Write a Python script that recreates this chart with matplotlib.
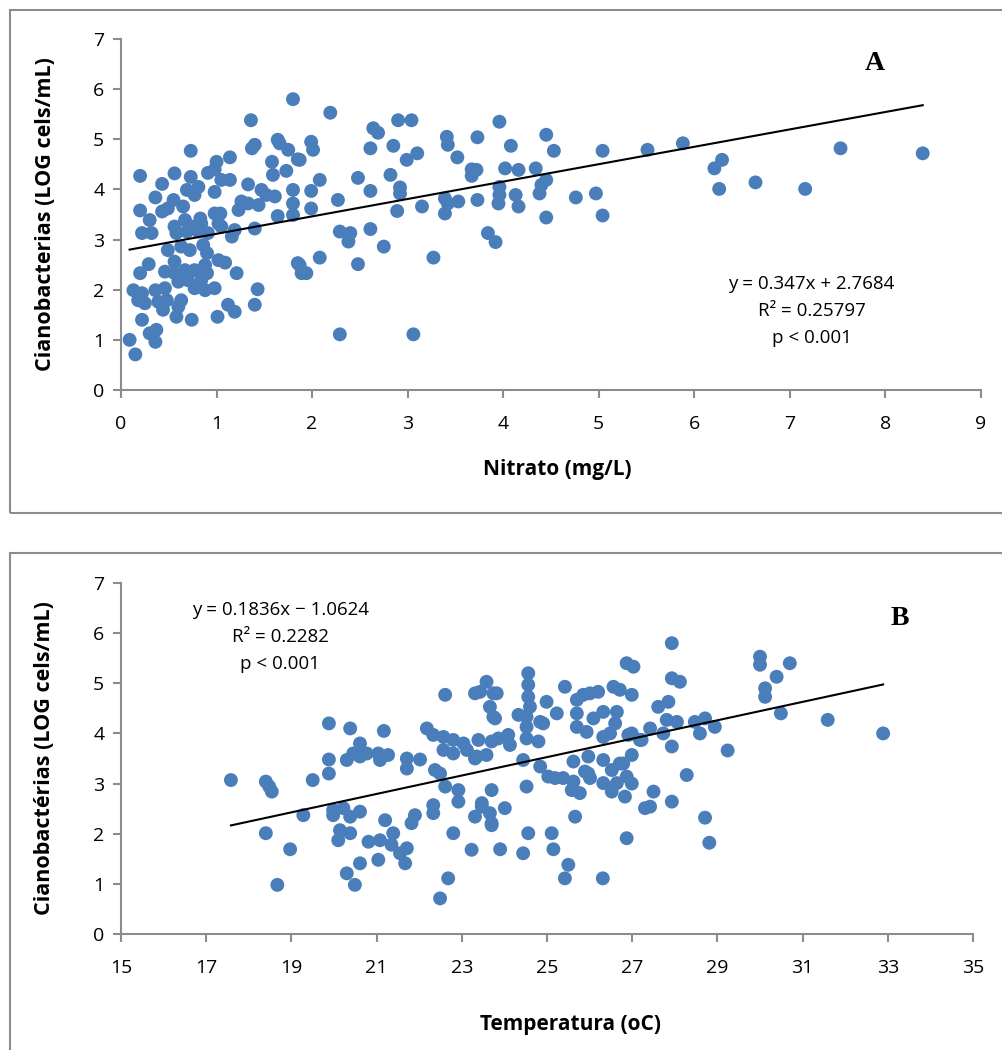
import matplotlib
matplotlib.use("Agg")
import matplotlib.pyplot as plt
from matplotlib.patches import Rectangle

# --- data ---
nitrato = [
    1.80, 1.36, 0.73, 1.37, 1.40, 1.64, 1.66, 1.75, 1.85, 1.14, 1.00, 0.20, 0.56, 0.43, 0.73, 0.91,
    0.98, 1.05, 1.14, 1.58, 1.59, 1.73, 1.33, 0.81, 0.69, 0.77, 0.98, 0.36, 0.55, 0.49, 0.65, 0.20,
    0.43, 1.47, 1.52, 1.61, 1.26, 1.23, 1.44, 1.33, 1.80, 1.80, 1.80, 1.64, 0.98, 1.04, 0.83, 0.30,
    0.22, 0.32, 0.56, 0.67, 0.74, 0.84, 0.58, 0.69, 0.81, 0.91, 1.02, 1.05, 1.16, 1.19, 1.40, 0.49,
    0.63, 0.72, 0.86, 0.90, 0.56, 0.29, 0.20, 0.46, 0.56, 0.67, 0.77, 0.88, 0.90, 1.02, 1.09, 1.21,
    1.85, 1.89, 0.60, 0.70, 0.84, 0.13, 0.22, 0.36, 0.46, 0.77, 0.88, 0.98, 1.43, 0.25, 0.18, 0.39,
    0.48, 0.60, 0.63, 0.44, 0.58, 0.74, 1.12, 1.19, 1.40, 1.01, 0.22, 0.30, 0.37, 0.36, 0.09, 0.15,
    2.19, 2.90, 3.04, 3.96, 2.64, 2.69, 1.99, 2.01, 3.41, 3.42, 3.73, 4.45, 2.61, 2.85, 4.08, 4.53,
    5.04, 1.87, 3.10, 2.99, 3.52, 3.67, 3.72, 3.67, 4.02, 4.16, 4.34, 2.08, 2.48, 2.82, 1.99, 2.61,
    2.92, 2.92, 2.27, 3.96, 3.96, 3.95, 4.45, 4.40, 4.38, 4.13, 4.16, 4.76, 4.97, 3.39, 3.42, 3.53,
    3.73, 3.15, 1.99, 2.89, 3.39, 4.45, 5.04, 2.29, 2.40, 2.38, 2.61, 2.75, 3.84, 3.92, 2.08, 2.48,
    3.27, 1.87, 1.94, 2.29, 3.06, 5.51, 5.88, 7.53, 8.39, 6.29, 6.21, 6.26, 6.64, 7.16,
]
ciano_a = [
    5.80, 5.38, 4.77, 4.82, 4.89, 4.99, 4.92, 4.79, 4.60, 4.64, 4.55, 4.27, 4.32, 4.11, 4.25, 4.33,
    4.40, 4.19, 4.19, 4.55, 4.29, 4.37, 4.10, 4.05, 3.99, 3.89, 3.95, 3.84, 3.79, 3.62, 3.66, 3.58,
    3.56, 3.99, 3.89, 3.86, 3.76, 3.59, 3.69, 3.72, 3.99, 3.72, 3.49, 3.47, 3.52, 3.52, 3.42, 3.39,
    3.13, 3.13, 3.26, 3.39, 3.26, 3.32, 3.13, 3.16, 3.16, 3.13, 3.32, 3.26, 3.06, 3.19, 3.22, 2.79,
    2.86, 2.79, 2.89, 2.73, 2.56, 2.51, 2.33, 2.36, 2.33, 2.39, 2.39, 2.49, 2.33, 2.59, 2.54, 2.33,
    2.53, 2.33, 2.16, 2.19, 2.19, 1.99, 1.93, 1.99, 2.03, 2.03, 1.99, 2.03, 2.01, 1.73, 1.79, 1.76,
    1.79, 1.66, 1.79, 1.60, 1.46, 1.40, 1.70, 1.56, 1.70, 1.46, 1.40, 1.13, 1.20, 0.96, 1.00, 0.71,
    5.53, 5.38, 5.38, 5.35, 5.22, 5.13, 4.95, 4.79, 5.05, 4.89, 5.04, 5.09, 4.82, 4.87, 4.87, 4.77,
    4.77, 4.59, 4.72, 4.59, 4.64, 4.40, 4.39, 4.27, 4.42, 4.39, 4.42, 4.19, 4.23, 4.29, 3.97, 3.97,
    4.04, 3.92, 3.79, 4.05, 3.89, 3.72, 4.19, 4.09, 3.92, 3.89, 3.66, 3.84, 3.92, 3.82, 3.72, 3.76,
    3.79, 3.66, 3.62, 3.57, 3.52, 3.44, 3.48, 3.16, 3.13, 2.96, 3.21, 2.86, 3.13, 2.95, 2.64, 2.51,
    2.64, 2.49, 2.33, 1.11, 1.11, 4.79, 4.92, 4.82, 4.72, 4.59, 4.42, 4.01, 4.14, 4.01,
]

temperatura = [
    17.58, 18.40, 18.48, 18.54, 18.40, 18.97, 18.67, 19.50, 19.28, 19.88, 19.88, 19.88, 20.38, 20.30,
    20.45, 20.61, 20.61, 20.77, 19.98, 19.98, 20.22, 20.38, 20.61, 20.14, 20.38, 20.10, 20.30, 20.49,
    20.61, 21.04, 21.08, 21.27, 21.17, 20.81, 21.08, 21.39, 21.35, 21.20, 21.04, 21.55, 21.67, 21.71,
    21.71, 21.71, 22.02, 21.82, 21.90, 22.18, 22.33, 22.57, 22.80, 23.04, 22.57, 22.80, 23.12, 22.37,
    22.49, 22.61, 22.61, 22.33, 22.33, 22.80, 22.49, 22.68, 22.92, 22.92, 23.23, 23.31, 23.39, 23.35,
    23.58, 23.31, 23.58, 23.74, 23.70, 23.47, 23.66, 23.70, 23.66, 23.74, 23.43, 23.82, 23.78, 24.56,
    24.56, 24.56, 24.60, 24.99, 25.42, 24.33, 24.52, 24.52, 24.84, 25.23, 25.70, 25.70, 25.85, 26.01,
    26.20, 26.32, 26.64, 26.60, 25.70, 25.93, 26.09, 23.31, 23.70, 23.86, 24.09, 24.13, 24.52, 24.80,
    24.91, 24.44, 24.84, 25.03, 25.19, 25.38, 25.62, 25.89, 26.01, 26.32, 26.52, 26.64, 26.79, 26.87,
    25.62, 25.77, 26.32, 26.52, 26.83, 24.52, 23.47, 23.70, 24.01, 23.90, 24.44, 24.56, 25.11, 25.15,
    25.66, 25.50, 25.42, 26.31, 26.87, 26.87, 27.93, 27.03, 27.93, 28.12, 26.71, 26.99, 27.61, 27.85,
    30.00, 30.00, 30.70, 30.39, 30.12, 30.12, 30.49, 31.59, 32.89, 27.81, 28.05, 28.47, 28.71, 28.94,
    27.42, 27.73, 27.18, 28.59, 27.93, 29.24, 26.99, 26.71, 26.99, 28.28, 27.50, 27.30, 27.42, 27.93,
    28.71, 28.81, 26.56, 25.58, 25.97, 25.97, 26.32, 26.48, 26.91, 26.99, 27.22,
]
ciano_b = [
    3.07, 3.04, 2.94, 2.84, 2.01, 1.69, 0.98, 3.07, 2.37, 4.20, 3.48, 3.20, 4.10, 3.47,
    3.60, 3.80, 3.54, 3.60, 2.47, 2.37, 2.51, 2.34, 2.44, 2.07, 2.01, 1.87, 1.21, 0.98,
    1.41, 3.60, 3.47, 3.57, 4.05, 1.84, 1.87, 2.01, 1.78, 2.27, 1.48, 1.61, 1.41, 1.71,
    3.50, 3.30, 3.48, 2.21, 2.37, 4.10, 3.97, 3.93, 3.87, 3.80, 3.67, 3.60, 3.67, 3.27,
    3.20, 2.94, 4.77, 2.57, 2.41, 2.01, 0.71, 1.11, 2.87, 2.64, 1.68, 2.34, 3.87, 3.54,
    3.57, 4.80, 5.03, 4.80, 2.87, 2.54, 2.41, 2.21, 4.53, 4.33, 4.83, 4.80, 4.30, 5.20,
    4.97, 4.73, 4.53, 4.63, 4.93, 4.37, 4.33, 4.13, 4.23, 4.40, 4.67, 4.40, 4.77, 4.80,
    4.83, 4.43, 4.43, 4.20, 4.13, 4.03, 4.30, 3.50, 3.84, 3.90, 3.97, 3.77, 3.90, 3.84,
    4.20, 3.47, 3.34, 3.14, 3.11, 3.11, 3.44, 3.24, 3.11, 3.47, 3.27, 3.01, 3.40, 3.14,
    3.04, 2.81, 3.01, 2.84, 2.74, 2.94, 2.61, 2.17, 2.51, 1.69, 1.61, 2.01, 2.01, 1.69,
    2.34, 1.38, 1.11, 1.11, 5.40, 1.91, 5.80, 5.33, 5.10, 5.03, 4.87, 4.77, 4.53, 4.63,
    5.53, 5.37, 5.40, 5.13, 4.90, 4.73, 4.40, 4.27, 4.00, 4.27, 4.23, 4.23, 4.30, 4.13,
    4.10, 4.00, 3.87, 4.00, 3.74, 3.66, 3.57, 3.40, 3.00, 3.17, 2.84, 2.51, 2.54, 2.64,
    2.32, 1.82, 4.93, 2.87, 3.54, 3.20, 3.93, 4.00, 3.97, 4.00, 3.87,
]

# trend lines (Excel linear fit)
slope_a, icpt_a = 0.347, 2.7684
slope_b, icpt_b = 0.1836, -1.0624

dot = "#4a7ebb"
grey = "#8c8c8c"
sans = ["Open Sans", "DejaVu Sans"]
serif = ["Liberation Serif", "DejaVu Serif"]

fig = plt.figure(figsize=(10.02, 10.5), dpi=100)

# outer frames of both panels
fig.patches.append(Rectangle((10 / 1002, 1 - 513 / 1050), 1.0, 503 / 1050, transform=fig.transFigure,
                             fill=False, edgecolor=grey, lw=1.5))
fig.patches.append(Rectangle((10 / 1002, -0.05), 1.0, 0.05 + (1 - 553 / 1050), transform=fig.transFigure,
                             fill=False, edgecolor=grey, lw=1.5))

ax1 = fig.add_axes([121 / 1002, 1 - 390 / 1050, 860 / 1002, 351 / 1050])
ax2 = fig.add_axes([121 / 1002, 1 - 934 / 1050, 852 / 1002, 351 / 1050])


def style(ax, xticks):
    ax.set_ylim(0, 7)
    ax.set_xlim(xticks[0], xticks[-1])
    ax.set_xticks(xticks)
    ax.set_yticks(range(8))
    for s in ("top", "right"):
        ax.spines[s].set_visible(False)
    for s in ("left", "bottom"):
        ax.spines[s].set_color(grey)
        ax.spines[s].set_linewidth(1.5)
    ax.tick_params(direction="out", length=6, width=1.5, color=grey, labelsize=14, pad=6)
    ax.tick_params(axis="x", pad=12)
    for lab in ax.get_xticklabels() + ax.get_yticklabels():
        lab.set_family(sans)


# panel A
ax1.scatter(nitrato, ciano_a, s=100, color=dot, edgecolors="none", zorder=2)
xa = [min(nitrato), max(nitrato)]
ax1.plot(xa, [slope_a * v + icpt_a for v in xa], color="black", lw=1.5, zorder=3)
style(ax1, list(range(10)))
ax1.set_xlabel("Nitrato (mg/L)", family=sans, fontsize=15, fontweight="bold")
ax1.xaxis.set_label_coords(0.507, -0.196)
ax1.set_ylabel("Cianobacterias (LOG cels/mL)", family=sans, fontsize=15.5, fontweight="bold")
ax1.yaxis.set_label_coords(-0.076, 0.5)
ax1.text(0.803, 0.225, "y = 0.347x + 2.7684\nR² = 0.25797\np < 0.001", transform=ax1.transAxes,
         ha="center", va="center", fontsize=13.5, family=sans, linespacing=1.65)
ax1.text(0.877, 0.93, "A", transform=ax1.transAxes, ha="center", va="center",
         fontsize=20, fontweight="bold", family=serif)

# panel B
ax2.scatter(temperatura, ciano_b, s=100, color=dot, edgecolors="none", zorder=2)
xb = [min(temperatura), max(temperatura)]
ax2.plot(xb, [slope_b * v + icpt_b for v in xb], color="black", lw=1.5, zorder=3)
style(ax2, list(range(15, 36, 2)))
ax2.set_xlabel("Temperatura (oC)", family=sans, fontsize=15, fontweight="bold")
ax2.xaxis.set_label_coords(0.527, -0.228)
ax2.set_ylabel("Cianobactérias (LOG cels/mL)", family=sans, fontsize=15.5, fontweight="bold")
ax2.yaxis.set_label_coords(-0.077, 0.5)
ax2.text(0.187, 0.846, "y = 0.1836x \u2212 1.0624\nR² = 0.2282\np < 0.001", transform=ax2.transAxes,
         ha="center", va="center", fontsize=13.5, family=sans, linespacing=1.65)
ax2.text(0.914, 0.9, "B", transform=ax2.transAxes, ha="center", va="center",
         fontsize=20, fontweight="bold", family=serif)

fig.savefig("out.png", dpi=100)
